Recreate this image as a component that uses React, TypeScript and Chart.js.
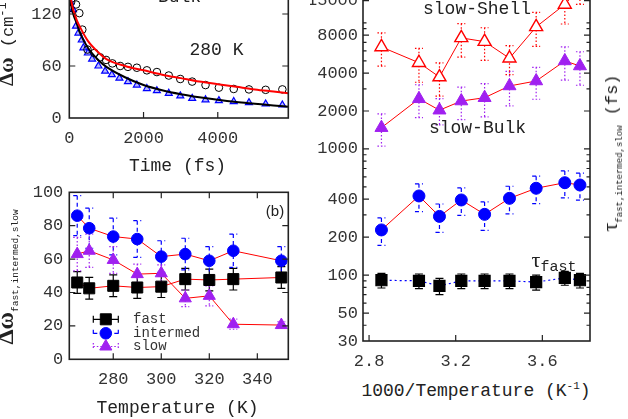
import React, { useEffect, useRef } from "react";
import { Chart, registerables } from "chart.js";

Chart.register(...registerables);

const MONO = "'Liberation Mono', 'DejaVu Sans Mono', monospace";
const SERIF = "'Liberation Serif', 'DejaVu Serif', serif";
const SANS = "'Liberation Sans', Arial, sans-serif";

// ---------- Panel (a): Δω vs time (280 K, Bulk) ----------
const circleTime = [0, 50, 180, 270, 350, 490, 680, 830, 990, 1160, 1370, 1580, 1820, 2090, 2360, 2680, 2990, 3310, 3670, 4030, 4430, 4840, 5290, 5740];
const circleDw = [127, 134, 131, 121, 102, 79, 75, 70, 67, 63, 60, 59, 58, 55, 53, 49, 45, 42, 38, 35, 33.5, 33, 32.5, 33];
const triangleTime = [20, 100, 180, 245, 335, 380, 500, 615, 785, 965, 1145, 1350, 1580, 1820, 2090, 2360, 2680, 2990, 3310, 3670, 4030, 4430, 4840, 5290, 5740];
const triangleDw = [134, 125, 106, 98, 90, 81, 75, 68, 60, 54, 50, 46, 42, 38, 34, 31.5, 28.5, 25.5, 22.7, 21, 20, 19, 17.7, 16.2, 15];
const fitTime = [0, 50, 100, 200, 300, 500, 800, 1000, 1500, 2000, 2500, 3000, 3500, 4000, 4500, 5000, 5500, 5900];
const redFit = [150, 136, 126, 113, 104, 89, 75, 68, 60, 55, 50, 46, 42, 39, 36, 33, 30.5, 28.5];
const blackFit = [150, 130, 121, 109, 97, 81, 66, 59, 47, 38, 32, 27.5, 24, 21, 18.5, 16.5, 14.5, 13];
const timeTicks = [0, 2000, 4000];
const dwTicksA = [0, 60, 120];

// ---------- Panel (b): Δω vs temperature ----------
const temperatures = [265, 270, 280, 290, 300, 310, 320, 330, 350];
const dwFast = [46, 42.5, 44, 43, 43.5, 48, 47.5, 48, 49];
const dwFastErr = [6.5, 6.5, 6.5, 6.5, 6.5, 6.5, 6.5, 6.5, 6.5];
const dwIntermed = [86, 78.5, 73.5, 72, 61.5, 63, 59, 65, 59];
const dwIntermedErr = [12, 12, 11, 11, 9.5, 9.5, 8.5, 10, 8.5];
const dwSlow = [63, 65, 59.5, 51, 51.5, 36.5, 38, 21, 20.5];
const dwSlowErr = [10, 10, 8, 6, 5, 5, 6, 3, 2];
const tempTicks = [280, 300, 320, 340];
const dwTicksB = [0, 20, 40, 60, 80, 100];

// ---------- Panel (c): τ vs 1000/T ----------
const tauFast = [91, 95, 88, 90, 90, 90, 82, 90, 91];
const tauFastErr = [12, 12, 12, 12, 12, 12, 12, 12, 12];
const tauIntermed = [518, 540, 488, 406, 303, 394, 292, 424, 228];
const tauIntermedErr = [125, 130, 120, 100, 77, 97, 74, 105, 56];
const tauSlowBulk = [4550, 4990, 3460, 3160, 2550, 2400, 2030, 2500, 1475];
const tauSlowBulkErr = [1350, 1470, 980, 960, 750, 690, 480, 730, 420];
const tauSlowShell = [19000, 14000, 9300, 5240, 7100, 7600, 3720, 4830, 6440];
const tauSlowShellErr = [5000, 4200, 2800, 1350, 2050, 2250, 1100, 1450, 1900];
const invTempTicks = [2.8, 3.2, 3.6];
const tauTicks = [30, 50, 100, 200, 400, 1000, 2000, 4000, 8000, 15000];
const tauMinorTicks = [40, 60, 70, 80, 90, 300, 500, 600, 700, 800, 900, 3000, 5000, 6000, 7000, 9000, 10000, 20000];

const invTemperature = temperatures.map((t) => 1000 / t);

const RED = "#ff0000";
const BLUE = "#0000ff";
const PURPLE = "#a020f0";
const BLACK = "#000000";

function pts(xs: number[], ys: number[]) {
  return xs.map((x, i) => ({ x, y: ys[i] }));
}

function drawMarker(ctx: CanvasRenderingContext2D, style: string, x: number, y: number, r: number, fill: string, stroke: string, lw = 1) {
  ctx.beginPath();
  if (style === "rect") {
    const s = r * Math.SQRT1_2;
    ctx.rect(x - s, y - s, 2 * s, 2 * s);
  } else if (style === "circle") {
    ctx.arc(x, y, r, 0, Math.PI * 2);
  } else {
    let rad = 0;
    ctx.moveTo(x + Math.sin(rad) * r, y - Math.cos(rad) * r);
    rad += (2 * Math.PI) / 3;
    ctx.lineTo(x + Math.sin(rad) * r, y - Math.cos(rad) * r);
    rad += (2 * Math.PI) / 3;
    ctx.lineTo(x + Math.sin(rad) * r, y - Math.cos(rad) * r);
    ctx.closePath();
  }
  ctx.fillStyle = fill;
  ctx.fill();
  ctx.lineWidth = lw;
  ctx.strokeStyle = stroke;
  ctx.stroke();
}

function framePlugin(minorY: number[] = []) {
  return {
    id: "frame",
    afterDatasetsDraw(chart: any) {
      const { ctx, chartArea: a, scales } = chart;
      const xs = scales.x;
      const ys = scales.y;
      ctx.save();
      ctx.setLineDash([]);
      ctx.strokeStyle = "#222";
      ctx.lineWidth = 1.6;
      ctx.strokeRect(a.left, a.top, a.right - a.left, a.bottom - a.top);
      ctx.lineWidth = 1.2;
      ctx.beginPath();
      const L = 6;
      xs.ticks.forEach((t: any) => {
        const p = xs.getPixelForValue(t.value);
        if (p < a.left + 1 || p > a.right - 1) return;
        ctx.moveTo(p, a.bottom);
        ctx.lineTo(p, a.bottom - L);
        ctx.moveTo(p, a.top);
        ctx.lineTo(p, a.top + L);
      });
      ys.ticks.forEach((t: any) => {
        const p = ys.getPixelForValue(t.value);
        if (p < a.top + 1 || p > a.bottom - 1) return;
        ctx.moveTo(a.left, p);
        ctx.lineTo(a.left + L, p);
        ctx.moveTo(a.right, p);
        ctx.lineTo(a.right - L, p);
      });
      minorY.forEach((v) => {
        const p = ys.getPixelForValue(v);
        if (p < a.top + 1 || p > a.bottom - 1) return;
        ctx.moveTo(a.left, p);
        ctx.lineTo(a.left + 3.5, p);
        ctx.moveTo(a.right, p);
        ctx.lineTo(a.right - 3.5, p);
      });
      ctx.stroke();
      ctx.restore();
    },
  };
}

const errorBarPlugin = {
  id: "errorBars",
  beforeDatasetsDraw(chart: any) {
    const { ctx, chartArea: a, scales } = chart;
    ctx.save();
    ctx.beginPath();
    ctx.rect(a.left, a.top, a.right - a.left, a.bottom - a.top);
    ctx.clip();
    chart.data.datasets.forEach((ds: any) => {
      if (!ds.errorBars) return;
      ctx.strokeStyle = ds.errorColor;
      ctx.lineWidth = ds.errorWidth || 1.2;
      ctx.setLineDash(ds.errorDash || []);
      ds.data.forEach((pt: any, i: number) => {
        const e = ds.errorBars[i];
        const px = scales.x.getPixelForValue(pt.x);
        const top = scales.y.getPixelForValue(pt.y + e);
        const bot = scales.y.getPixelForValue(Math.max(pt.y - e, 1e-6));
        const c = 4;
        ctx.beginPath();
        ctx.moveTo(px, top);
        ctx.lineTo(px, bot);
        ctx.moveTo(px - c, top);
        ctx.lineTo(px + c, top);
        ctx.moveTo(px - c, bot);
        ctx.lineTo(px + c, bot);
        ctx.stroke();
      });
    });
    ctx.restore();
  },
};

function legendPlugin(items: any[], x0: number, x1: number, textX: number) {
  return {
    id: "panelLegend",
    afterDraw(chart: any) {
      const ctx: CanvasRenderingContext2D = chart.ctx;
      ctx.save();
      items.forEach((it) => {
        const y = it.y;
        ctx.strokeStyle = it.color;
        ctx.lineWidth = 1.2;
        ctx.setLineDash(it.dash);
        ctx.beginPath();
        ctx.moveTo(x0, y);
        ctx.lineTo(x1, y);
        ctx.moveTo(x0, y - 3.5);
        ctx.lineTo(x0, y + 3.5);
        ctx.moveTo(x1, y - 3.5);
        ctx.lineTo(x1, y + 3.5);
        ctx.stroke();
        ctx.setLineDash([]);
        drawMarker(ctx, it.style, (x0 + x1) / 2, y, it.radius, it.color, it.color);
        ctx.fillStyle = "#333";
        ctx.font = `14px ${MONO}`;
        ctx.textBaseline = "middle";
        ctx.textAlign = "left";
        ctx.fillText(it.label, textX, y);
      });
      ctx.restore();
    },
  };
}

function axis(type: string, min: number, max: number, ticks: number[], pad: number, fit: number, dir: "x" | "y") {
  return {
    type,
    min,
    max,
    afterBuildTicks: (s: any) => {
      s.ticks = ticks.map((v) => ({ value: v }));
    },
    afterFit: (s: any) => {
      if (dir === "x") s.height = fit;
      else s.width = fit;
      s.paddingTop = 0;
      s.paddingBottom = 0;
      s.paddingLeft = 0;
      s.paddingRight = 0;
    },
    grid: { display: false, drawTicks: false },
    border: { display: false },
    ticks: {
      font: { family: MONO, size: 17 },
      color: "#333",
      padding: pad,
      autoSkip: false,
      maxRotation: 0,
      minRotation: 0,
      callback: (v: any) => String(v),
    },
  };
}

function baseOptions(padding: any, x: any, y: any) {
  return {
    animation: false,
    responsive: false,
    events: [],
    layout: { padding, autoPadding: false },
    plugins: { legend: { display: false }, tooltip: { enabled: false } },
    scales: { x, y },
  };
}

const makeA = () => ({
  type: "scatter",
  data: {
    datasets: [
      { data: pts(fitTime, redFit), showLine: true, borderColor: RED, borderWidth: 2, pointRadius: 0, cubicInterpolationMode: "monotone" },
      { data: pts(fitTime, blackFit), showLine: true, borderColor: BLACK, borderWidth: 2, pointRadius: 0, cubicInterpolationMode: "monotone" },
      { data: pts(circleTime, circleDw), pointStyle: "circle", pointRadius: 3.8, pointBorderColor: BLACK, pointBackgroundColor: "rgba(255,255,255,0)", pointBorderWidth: 1 },
      { data: pts(triangleTime, triangleDw), pointStyle: "triangle", pointRadius: 4, pointBorderColor: BLUE, pointBackgroundColor: "rgba(90,90,255,0.45)", pointBorderWidth: 1.2 },
    ],
  },
  options: baseOptions(
    { top: 0, right: 11.7, left: 0, bottom: 0 },
    axis("linear", 0, 5900, timeTicks, 10, 40, "x"),
    axis("linear", 0, 150, dwTicksA, 7.5, 69.3, "y")
  ),
  plugins: [framePlugin()],
});

const makeB = () => ({
  type: "scatter",
  data: {
    datasets: [
      { data: pts(temperatures, dwFast), showLine: true, borderColor: RED, borderWidth: 1, pointStyle: "rect", pointRadius: 7.8, pointBackgroundColor: BLACK, pointBorderColor: BLACK, errorBars: dwFastErr, errorColor: BLACK, errorDash: [] },
      { data: pts(temperatures, dwIntermed), showLine: true, borderColor: RED, borderWidth: 1, pointStyle: "circle", pointRadius: 5.8, pointBackgroundColor: BLUE, pointBorderColor: BLUE, errorBars: dwIntermedErr, errorColor: BLUE, errorDash: [4, 3] },
      { data: pts(temperatures, dwSlow), showLine: true, borderColor: RED, borderWidth: 1, pointStyle: "triangle", pointRadius: 7, pointBackgroundColor: PURPLE, pointBorderColor: PURPLE, errorBars: dwSlowErr, errorColor: PURPLE, errorDash: [1.5, 2] },
    ],
  },
  options: baseOptions(
    { top: 10.3, right: 11.7, left: 0, bottom: 0 },
    axis("linear", 261.7, 352.9, tempTicks, 10, 40.7, "x"),
    axis("linear", 0, 100, dwTicksB, 6, 69.3, "y")
  ),
  plugins: [
    errorBarPlugin,
    framePlugin(),
    legendPlugin(
      [
        { label: "fast", y: 137.3, color: BLACK, dash: [], style: "rect", radius: 7.8 },
        { label: "intermed", y: 151.3, color: BLUE, dash: [4, 3], style: "circle", radius: 5.8 },
        { label: "slow", y: 164.5, color: PURPLE, dash: [1.5, 2], style: "triangle", radius: 7 },
      ],
      93.3,
      118.3,
      133
    ),
  ],
});

const makeC = () => ({
  type: "scatter",
  data: {
    datasets: [
      { data: pts(invTemperature, tauFast), showLine: true, borderColor: BLUE, borderWidth: 1.2, borderDash: [2, 3], pointStyle: "rect", pointRadius: 7.8, pointBackgroundColor: BLACK, pointBorderColor: BLACK, errorBars: tauFastErr, errorColor: BLACK, errorDash: [] },
      { data: pts(invTemperature, tauIntermed), showLine: true, borderColor: RED, borderWidth: 1, pointStyle: "circle", pointRadius: 6, pointBackgroundColor: BLUE, pointBorderColor: BLUE, errorBars: tauIntermedErr, errorColor: BLUE, errorDash: [4, 3] },
      { data: pts(invTemperature, tauSlowBulk), showLine: true, borderColor: RED, borderWidth: 1, pointStyle: "triangle", pointRadius: 7.5, pointBackgroundColor: PURPLE, pointBorderColor: PURPLE, errorBars: tauSlowBulkErr, errorColor: PURPLE, errorDash: [1.5, 2] },
      { data: pts(invTemperature, tauSlowShell), showLine: true, borderColor: RED, borderWidth: 1, pointStyle: "triangle", pointRadius: 7.5, pointBackgroundColor: "#ffffff", pointBorderColor: RED, pointBorderWidth: 1.4, errorBars: tauSlowShellErr, errorColor: RED, errorDash: [1.5, 2] },
    ],
  },
  options: baseOptions(
    { top: 0, right: 38, left: 0, bottom: 0 },
    axis("linear", 2.772, 3.82, invTempTicks, 10, 30, "x"),
    axis("logarithmic", 30, 26260, tauTicks, 5, 53, "y")
  ),
  plugins: [errorBarPlugin, framePlugin(tauMinorTicks)],
});

function ChartCanvas({ left, top, width, height, make }: any) {
  const ref = useRef<HTMLCanvasElement>(null);
  useEffect(() => {
    const chart = new Chart(ref.current as HTMLCanvasElement, make() as any);
    return () => chart.destroy();
  }, []);
  return <canvas ref={ref} width={width} height={height} style={{ position: "absolute", left, top, width, height }} />;
}

function Txt({ x, y, size = 18, family = MONO, rotate = false, children }: any) {
  return (
    <div
      style={{
        position: "absolute",
        left: x,
        top: y,
        transform: `translate(-50%, -50%)${rotate ? " rotate(-90deg)" : ""}`,
        fontFamily: family,
        fontSize: size,
        lineHeight: 1,
        whiteSpace: "nowrap",
        color: "#222",
      }}
    >
      {children}
    </div>
  );
}

export default function App() {
  return (
    <div style={{ position: "absolute", left: 0, top: 0, width: 628, height: 419, overflow: "hidden", background: "#fff" }}>
      <ChartCanvas left={0} top={-12} width={300} height={170} make={makeA} />
      <ChartCanvas left={0} top={182} width={300} height={218} make={makeB} />
      <ChartCanvas left={310} top={-30} width={318} height={401} make={makeC} />

      <Txt x={179.5} y={-3}>Bulk</Txt>
      <Txt x={216.5} y={50}>280 K</Txt>
      <Txt x={177.5} y={166}>Time (fs)</Txt>
      <Txt x={275} y={210} size={15} family={SANS}>(b)</Txt>
      <Txt x={177.5} y={408}>Temperature (K)</Txt>
      <Txt x={476} y={391}>
        1000/Temperature (K<span style={{ fontSize: 11, position: "relative", top: -7 }}>-1</span>)
      </Txt>
      <Txt x={477} y={9}>slow-Shell</Txt>
      <Txt x={477.5} y={127.5}>slow-Bulk</Txt>
      <Txt x={554} y={260}>
        <span style={{ fontFamily: SERIF, fontSize: 22 }}>τ</span>
        <span style={{ fontFamily: MONO, fontSize: 15, position: "relative", top: 4 }}>fast</span>
      </Txt>

      <Txt x={6} y={39} size={17} rotate>
        <span style={{ fontFamily: SERIF, fontSize: 21, fontWeight: "bold" }}>Δω</span>
        <span> (cm</span>
        <span style={{ fontSize: 12, position: "relative", top: -7 }}>-1</span>
        <span>)</span>
      </Txt>
      <Txt x={5} y={277} rotate>
        <span style={{ fontFamily: SERIF, fontSize: 24, fontWeight: "bold" }}>Δω</span>
        <span style={{ fontSize: 9.5, position: "relative", top: 5 }}>fast,intermed,slow</span>
      </Txt>
      <Txt x={610} y={153} rotate>
        <span style={{ fontFamily: SERIF, fontSize: 22 }}>τ</span>
        <span style={{ fontSize: 9, position: "relative", top: 5 }}>fast,intermed,slow</span>
        <span style={{ fontSize: 17 }}> (fs)</span>
      </Txt>
    </div>
  );
}
